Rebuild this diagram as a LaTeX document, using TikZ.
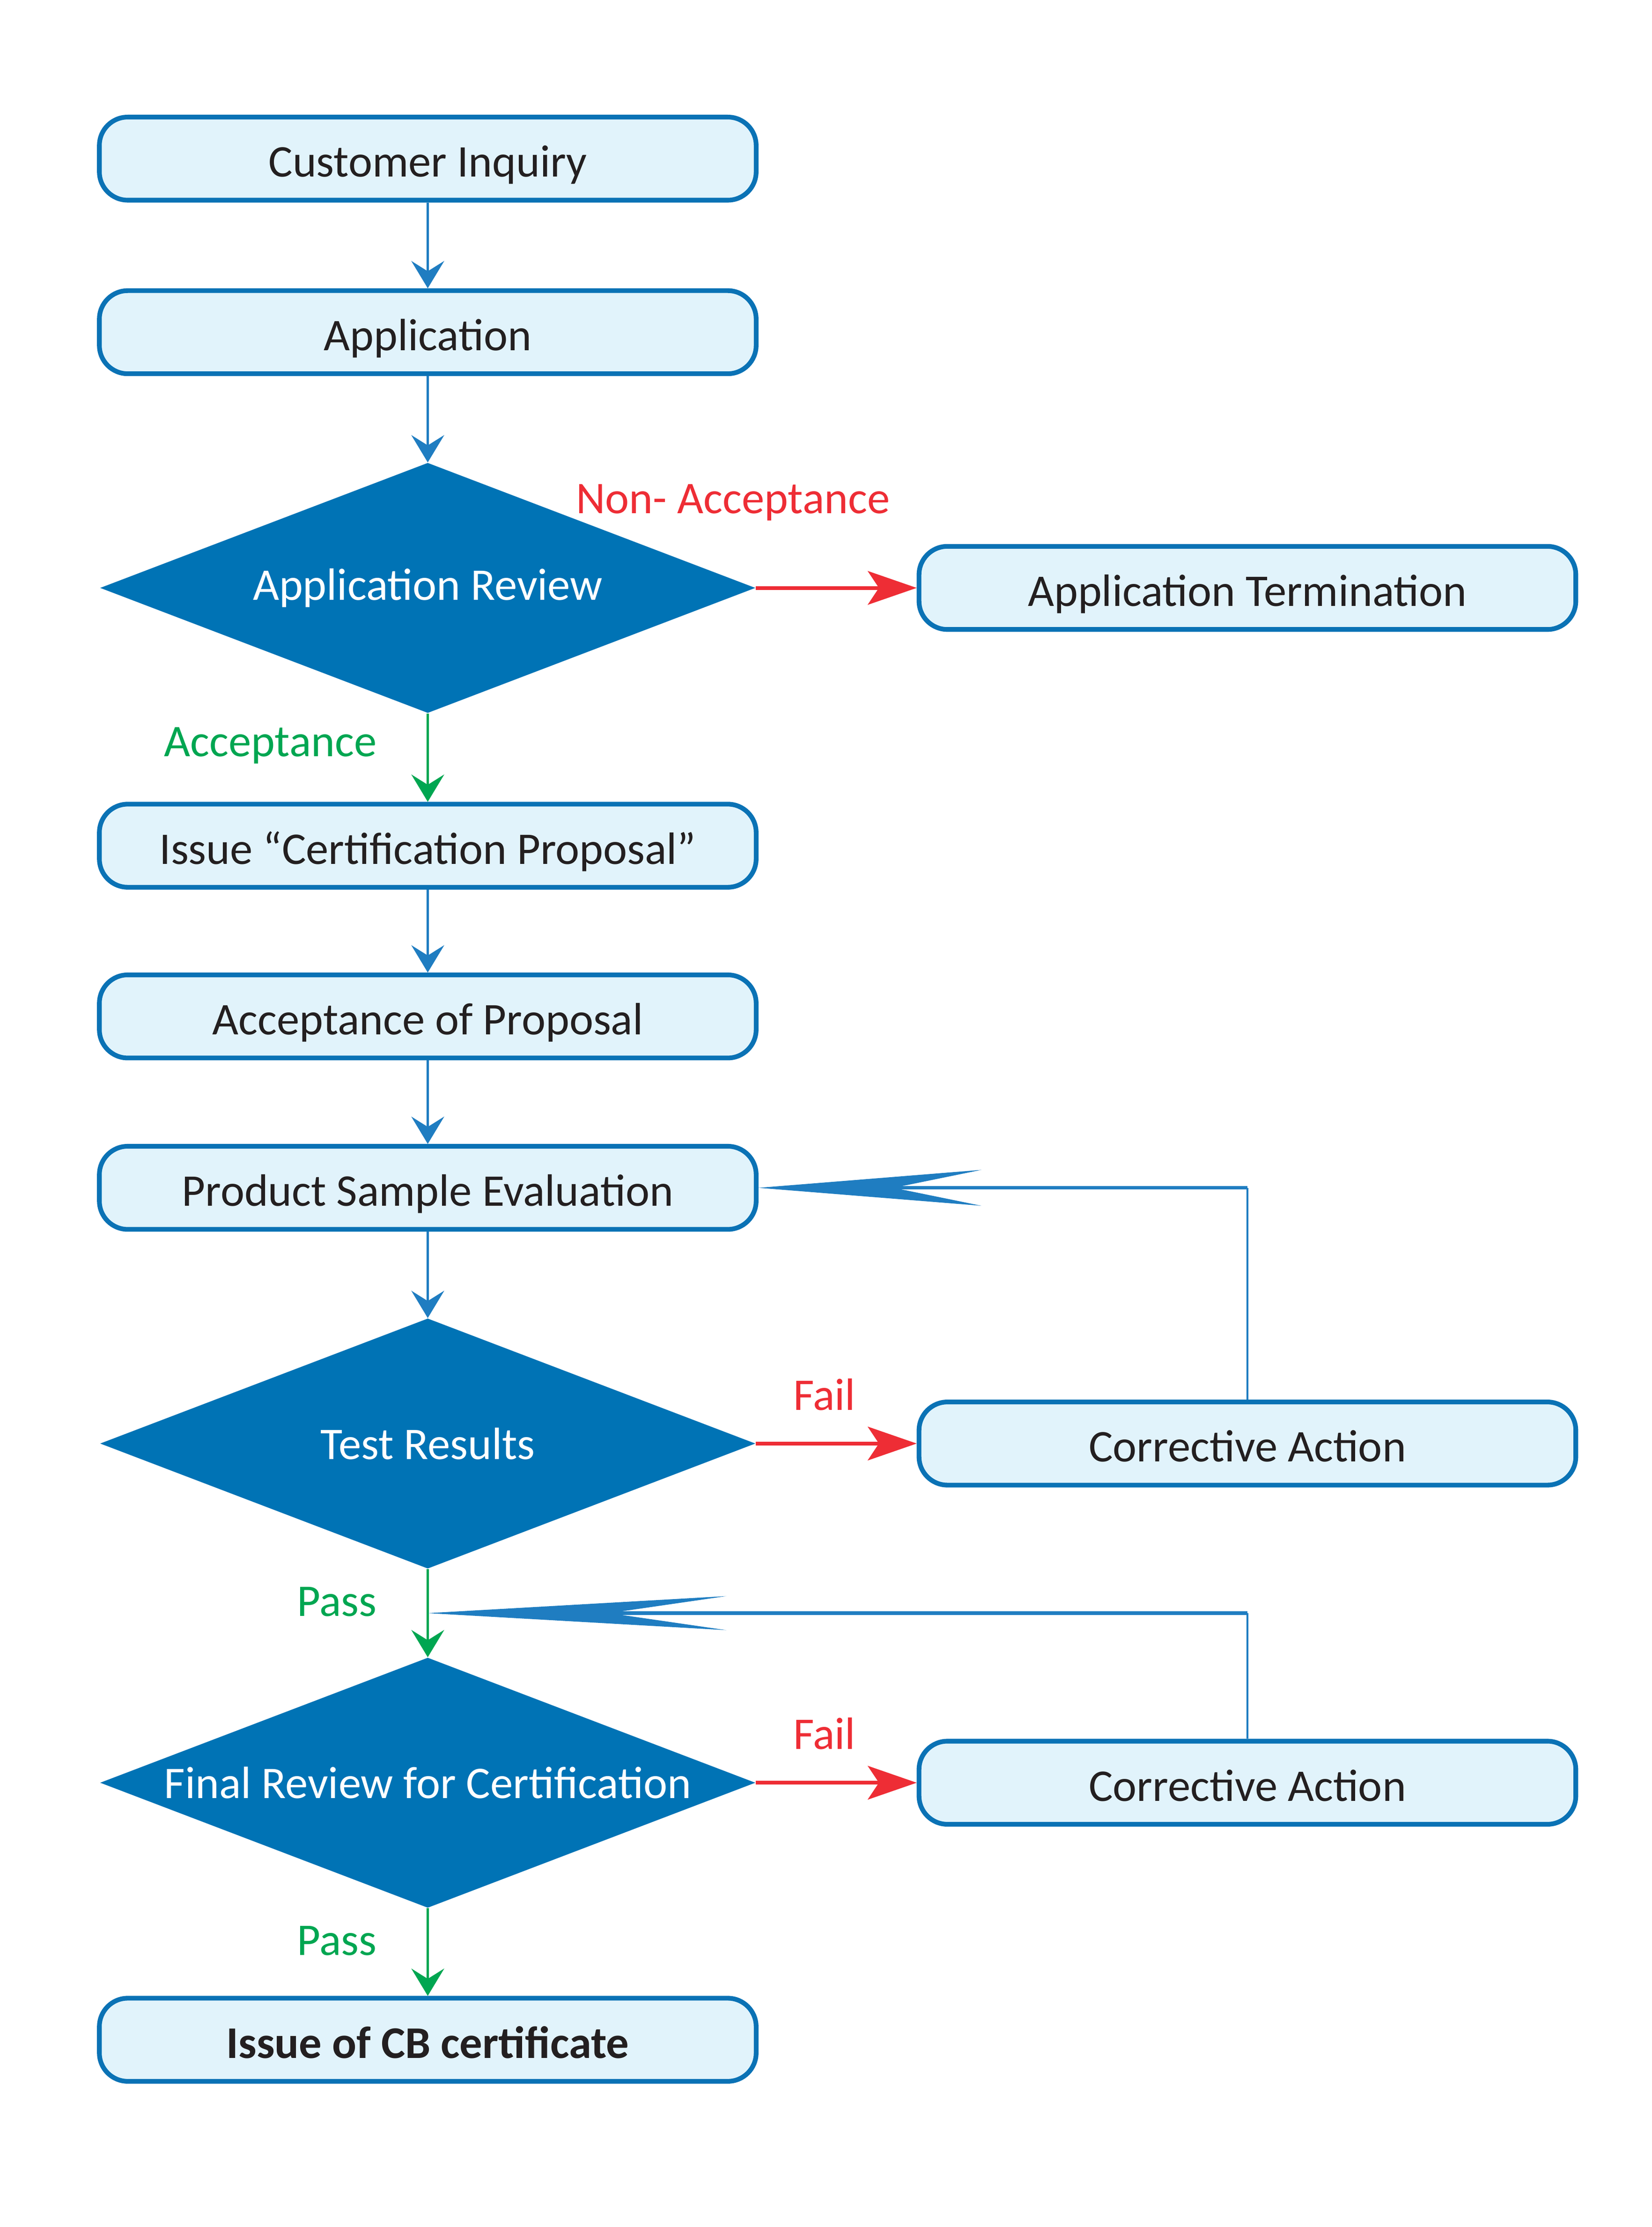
\documentclass[tikz,border=0pt]{standalone}
\usepackage{fontspec}
\setmainfont{Carlito}
\usepackage{tikz}
\usetikzlibrary{shapes.geometric, arrows.meta, positioning, calc}

\definecolor{boxfill}{HTML}{E1F3FB}
\definecolor{boxline}{HTML}{0A72B5}
\definecolor{decfill}{HTML}{0073B5}
\definecolor{flowblue}{HTML}{1F7DC1}
\definecolor{failred}{HTML}{EE2D35}
\definecolor{passgreen}{HTML}{00A651}
\definecolor{txt}{HTML}{231F20}

\tikzset{
    big/.style={font=\fontsize{24}{29}\selectfont},
    stage/.style={big, draw=boxline, fill=boxfill, line width=2.5pt, rounded corners=15pt,
        minimum width=347.75pt, minimum height=44pt, inner sep=0pt, text=txt,
        text height=19.3pt, text depth=0pt},
    check/.style={big, diamond, fill=decfill, aspect=2.62, minimum width=347pt,
        minimum height=132.5pt, inner sep=0pt, text=white},
    flow/.style={color=flowblue, line width=1.3pt,
        -{Stealth[length=14.5pt, width=17.5pt, inset=5.5pt, line width=0pt]}},
    fail/.style={color=failred, line width=2pt,
        -{Stealth[length=26pt, width=18pt, inset=6pt, line width=0pt]}},
    pass/.style={color=passgreen, line width=1.3pt,
        -{Stealth[length=14.5pt, width=17.5pt, inset=5.5pt, line width=0pt]}},
    lbl/.style={big, inner sep=0pt, text height=15.5pt, text depth=0pt},
    loopline/.style={color=flowblue, line width=0.75pt},
    loopback/.style={color=flowblue, line width=1.8pt,
        -{Stealth[length=118pt, width=19pt, inset=46.5pt, line width=0pt]}},
    loopbacklong/.style={color=flowblue, line width=1.8pt,
        -{Stealth[length=158pt, width=18pt, inset=62pt, line width=0pt]}}
}

\begin{document}
\begin{tikzpicture}[node distance=91pt]
    \node[stage] (CI) {Customer Inquiry};
    \useasboundingbox (CI.center) ++(-226.5pt,84pt) rectangle ++(874.5pt,-1179.2pt);
    \node[stage] (AP) [node distance=91.9pt, below of=CI] {Application};
    \node[check] (AR) [node distance=135.4pt, below of=AP] {Application Review};
    \node[stage] (AT) [node distance=434pt, right of=AR] {Application Termination};
    \node[stage] (CP) [node distance=136.5pt, below of=AR] {Issue “Certification Proposal”};
    \node[stage] (PA) [node distance=90.4pt, below of=CP] {Acceptance of Proposal};
    \node[stage] (PS) [node distance=90.75pt, below of=PA] {Product Sample Evaluation};
    \node[check] (TR) [node distance=135.4pt, below of=PS] {Test Results};
    \node[stage] (CA1) [node distance=434pt, right of=TR] {Corrective Action};
    \node[check] (FR) [node distance=179.6pt, below of=TR] {Final Review for Certification};
    \node[stage] (CA2) [node distance=434pt, right of=FR] {Corrective Action};
    \node[stage] (CB) [node distance=136.1pt, below of=FR] {\textbf{Issue of CB certificate}};

    \path[flow]
    (CI) edge (AP)
    (AP) edge (AR)
    (AR) edge [fail] node [lbl, text=failred, pos=-0.142, yshift=47.3pt] {Non- Acceptance} (AT)
         edge [pass] node [lbl, text=passgreen, pos=0.32, left=26.4pt] {Acceptance} (CP)
    (CP) edge (PA)
    (PA) edge (PS)
    (PS) edge (TR)
    (TR) edge [fail] node [lbl, text=failred, pos=0.427, yshift=25.5pt] {Fail} (CA1)
         edge [pass] node [lbl, text=passgreen, pos=0.37, left=26.4pt] {Pass} (FR)
    (FR) edge [fail] node [lbl, text=failred, pos=0.427, yshift=25.5pt] {Fail} (CA2)
         edge [pass] node [lbl, text=passgreen, pos=0.37, left=26.4pt] {Pass} (CB)
    ;

    % corrective action loops
    \coordinate (K1) at (CA1.north |- PS.east);
    \draw[loopline] (CA1.north) -- (K1);
    \draw[loopback] (K1) -- (PS.east);
    \coordinate (M2) at ($(TR.south)!0.5!(FR.north)$);
    \coordinate (K2) at (CA2.north |- M2);
    \draw[loopline] (CA2.north) -- (K2);
    \draw[loopbacklong] (K2) -- (M2);
\end{tikzpicture}
\end{document}
